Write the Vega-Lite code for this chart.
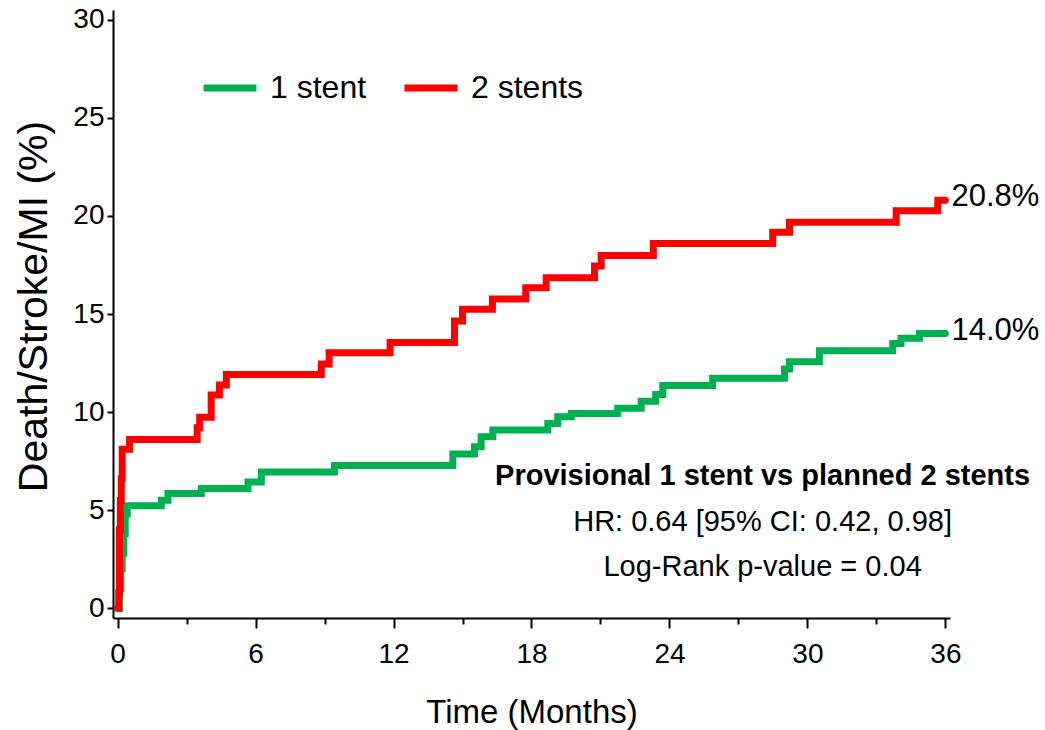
{
  "$schema": "https://vega.github.io/schema/vega-lite/v6.json",
  "width": 837,
  "height": 608,
  "autosize": {"type": "none"},
  "padding": {"left": 113, "top": 10, "right": 95, "bottom": 112},
  "background": "white",
  "config": {
    "font": "Liberation Sans",
    "view": {"stroke": null},
    "axis": {
      "grid": false,
      "domainColor": "black",
      "tickColor": "black",
      "labelColor": "black",
      "titleColor": "black",
      "labelFont": "Liberation Sans",
      "titleFont": "Liberation Sans",
      "titleFontWeight": "normal"
    },
    "text": {"font": "Liberation Sans", "color": "black"}
  },
  "datasets": {
    "curves": [
      {"arm": "1 stent", "month": 0, "pct": 0},
      {"arm": "1 stent", "month": 0.08, "pct": 1.0},
      {"arm": "1 stent", "month": 0.13, "pct": 2.0},
      {"arm": "1 stent", "month": 0.2, "pct": 2.8},
      {"arm": "1 stent", "month": 0.27, "pct": 3.8},
      {"arm": "1 stent", "month": 0.33, "pct": 4.8},
      {"arm": "1 stent", "month": 0.42, "pct": 5.22},
      {"arm": "1 stent", "month": 1.9, "pct": 5.5},
      {"arm": "1 stent", "month": 2.19, "pct": 5.85},
      {"arm": "1 stent", "month": 3.64, "pct": 6.1},
      {"arm": "1 stent", "month": 5.67, "pct": 6.44},
      {"arm": "1 stent", "month": 6.25, "pct": 6.95},
      {"arm": "1 stent", "month": 9.43, "pct": 7.28},
      {"arm": "1 stent", "month": 14.58, "pct": 7.86},
      {"arm": "1 stent", "month": 15.52, "pct": 8.23},
      {"arm": "1 stent", "month": 15.81, "pct": 8.74},
      {"arm": "1 stent", "month": 16.32, "pct": 9.08},
      {"arm": "1 stent", "month": 18.71, "pct": 9.42},
      {"arm": "1 stent", "month": 19.14, "pct": 9.76},
      {"arm": "1 stent", "month": 19.73, "pct": 9.93},
      {"arm": "1 stent", "month": 21.75, "pct": 10.19},
      {"arm": "1 stent", "month": 22.77, "pct": 10.55},
      {"arm": "1 stent", "month": 23.4, "pct": 10.9},
      {"arm": "1 stent", "month": 23.71, "pct": 11.35},
      {"arm": "1 stent", "month": 25.88, "pct": 11.72},
      {"arm": "1 stent", "month": 29.0, "pct": 12.19},
      {"arm": "1 stent", "month": 29.22, "pct": 12.57},
      {"arm": "1 stent", "month": 30.52, "pct": 13.13},
      {"arm": "1 stent", "month": 33.71, "pct": 13.5},
      {"arm": "1 stent", "month": 34.07, "pct": 13.76},
      {"arm": "1 stent", "month": 34.87, "pct": 14.0},
      {"arm": "1 stent", "month": 36, "pct": 14.0},
      {"arm": "2 stents", "month": 0, "pct": 0},
      {"arm": "2 stents", "month": 0.05, "pct": 0.8},
      {"arm": "2 stents", "month": 0.08, "pct": 4.0},
      {"arm": "2 stents", "month": 0.12, "pct": 5.5},
      {"arm": "2 stents", "month": 0.16, "pct": 6.6},
      {"arm": "2 stents", "month": 0.2, "pct": 8.1},
      {"arm": "2 stents", "month": 0.52, "pct": 8.6},
      {"arm": "2 stents", "month": 3.46, "pct": 9.2},
      {"arm": "2 stents", "month": 3.57, "pct": 9.73},
      {"arm": "2 stents", "month": 4.07, "pct": 10.87},
      {"arm": "2 stents", "month": 4.43, "pct": 11.38},
      {"arm": "2 stents", "month": 4.73, "pct": 11.92},
      {"arm": "2 stents", "month": 8.86, "pct": 12.45},
      {"arm": "2 stents", "month": 9.2, "pct": 13.03},
      {"arm": "2 stents", "month": 11.85, "pct": 13.55},
      {"arm": "2 stents", "month": 14.65, "pct": 14.64},
      {"arm": "2 stents", "month": 15.0, "pct": 15.24},
      {"arm": "2 stents", "month": 16.3, "pct": 15.77},
      {"arm": "2 stents", "month": 17.75, "pct": 16.34},
      {"arm": "2 stents", "month": 18.64, "pct": 16.85},
      {"arm": "2 stents", "month": 20.74, "pct": 17.45},
      {"arm": "2 stents", "month": 21.03, "pct": 17.98},
      {"arm": "2 stents", "month": 23.3, "pct": 18.6},
      {"arm": "2 stents", "month": 28.49, "pct": 19.17},
      {"arm": "2 stents", "month": 29.22, "pct": 19.68},
      {"arm": "2 stents", "month": 33.86, "pct": 20.26},
      {"arm": "2 stents", "month": 35.67, "pct": 20.8},
      {"arm": "2 stents", "month": 36, "pct": 20.8}
    ],
    "notes": [
      {"kind": "heading", "month": 28.05, "pct": 6.73, "text": "Provisional 1 stent vs planned 2 stents"},
      {"kind": "stat", "month": 28.05, "pct": 4.39, "text": "HR: 0.64 [95% CI: 0.42, 0.98]"},
      {"kind": "stat", "month": 28.05, "pct": 2.09, "text": "Log-Rank p-value = 0.04"}
    ],
    "ends": [
      {"month": 36, "pct": 20.8, "text": "20.8%"},
      {"month": 36, "pct": 14.0, "text": "14.0%"}
    ]
  },
  "resolve": {"axis": {"x": "independent"}},
  "layer": [
    {
      "data": {"name": "curves"},
      "mark": {"type": "line", "interpolate": "step-after", "strokeWidth": 7, "strokeCap": "round"},
      "encoding": {
        "x": {
          "field": "month", "type": "quantitative",
          "scale": {"domain": [-0.2, 36.2], "nice": false, "zero": false},
          "axis": {
            "orient": "bottom",
            "values": [0, 6, 12, 18, 24, 30, 36],
            "tickSize": 10, "tickWidth": 2, "domainWidth": 2,
            "labelFontSize": 28, "labelPadding": 12, "labelFlush": false,
            "title": "Time (Months)", "titleFontSize": 33, "titlePadding": 28
          }
        },
        "y": {
          "field": "pct", "type": "quantitative",
          "scale": {"domain": [-0.5, 30.5], "nice": false, "zero": false},
          "axis": {
            "values": [0, 5, 10, 15, 20, 25, 30],
            "tickSize": 6, "tickWidth": 2, "domainWidth": 2,
            "labelFontSize": 28, "labelPadding": 3, "labelFlush": false,
            "title": "Death/Stroke/MI (%)", "titleFontSize": 41, "titlePadding": 17,
            "titleY": 296
          }
        },
        "color": {
          "field": "arm", "type": "nominal",
          "scale": {"domain": ["1 stent", "2 stents"], "range": ["#00B050", "#FF0000"]},
          "legend": {
            "orient": "none", "legendX": 87, "legendY": 48,
            "direction": "horizontal", "title": null,
            "symbolType": "stroke", "symbolSize": 2809, "symbolStrokeWidth": 7,
            "labelFontSize": 32, "labelOffset": 10, "columnPadding": 23,
            "padding": 0, "labelColor": "black", "labelFont": "Liberation Sans"
          }
        }
      }
    },
    {
      "data": {"name": "notes"},
      "transform": [{"filter": "datum.kind === 'heading'"}],
      "mark": {"type": "text", "fontSize": 29, "fontWeight": "bold", "align": "center", "baseline": "middle"},
      "encoding": {
        "x": {"field": "month", "type": "quantitative", "axis": null},
        "y": {"field": "pct", "type": "quantitative"},
        "text": {"field": "text"}
      }
    },
    {
      "data": {"name": "notes"},
      "transform": [{"filter": "datum.kind === 'stat'"}],
      "mark": {"type": "text", "fontSize": 29, "align": "center", "baseline": "middle"},
      "encoding": {
        "x": {"field": "month", "type": "quantitative", "axis": null},
        "y": {"field": "pct", "type": "quantitative"},
        "text": {"field": "text"}
      }
    },
    {
      "data": {"name": "ends"},
      "mark": {"type": "text", "fontSize": 31, "align": "left", "baseline": "middle", "dx": 6, "dy": -3},
      "encoding": {
        "x": {
          "field": "month", "type": "quantitative",
          "axis": {
            "orient": "bottom",
            "values": [3, 9, 15, 21, 27, 33],
            "labels": false, "domain": false, "title": null,
            "tickSize": 6, "tickWidth": 2
          }
        },
        "y": {"field": "pct", "type": "quantitative"},
        "text": {"field": "text"}
      }
    }
  ]
}
